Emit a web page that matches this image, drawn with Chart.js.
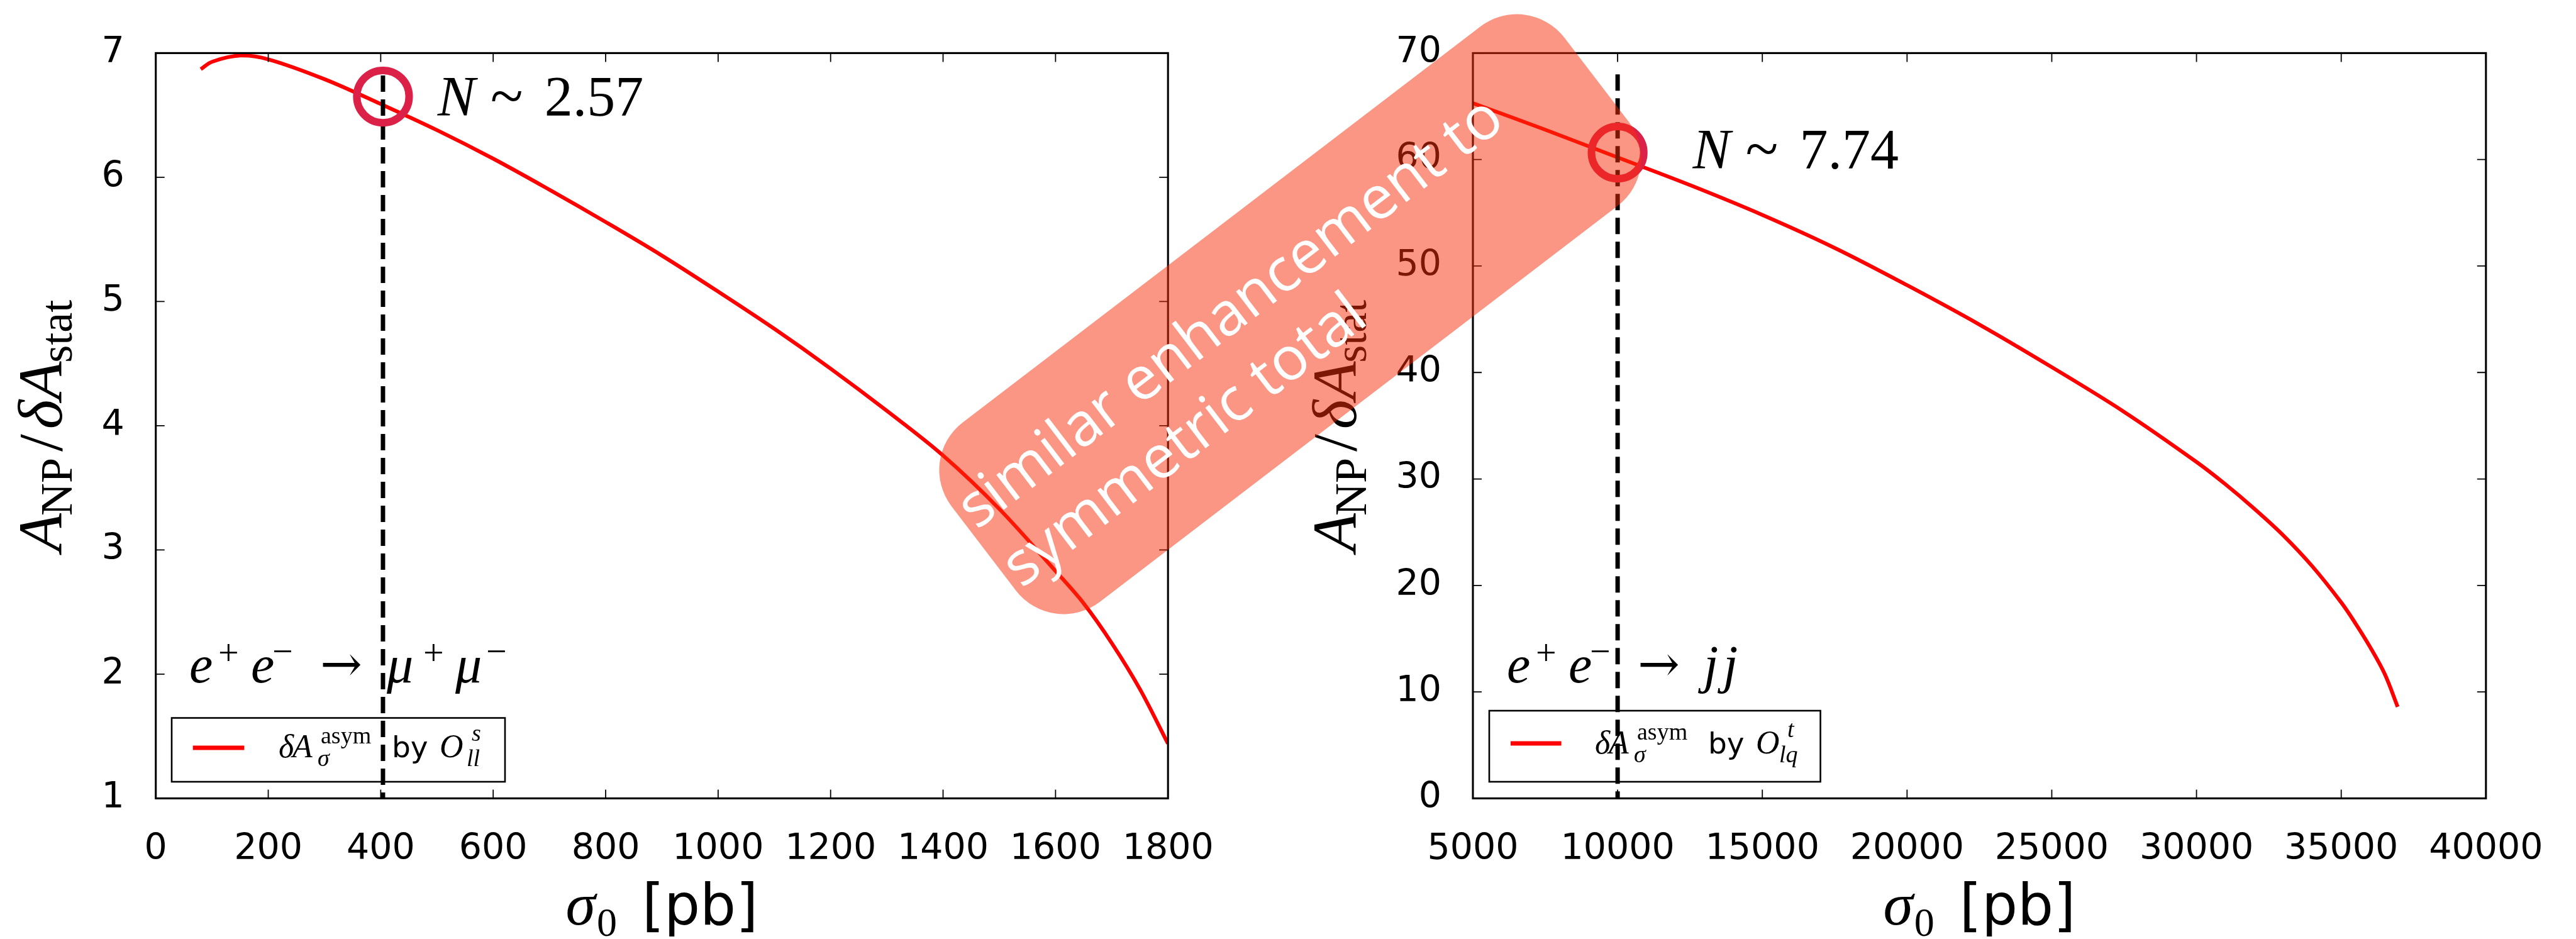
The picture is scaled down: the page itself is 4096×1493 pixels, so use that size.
<!DOCTYPE html>
<html>
<head>
<meta charset="utf-8">
<script src="https://cdn.jsdelivr.net/npm/chart.js@4.4.1/dist/chart.umd.min.js"></script>
<style>
  html, body { margin: 0; padding: 0; background: #fff; overflow: hidden; }
  #wrap { position: relative; width: 4096px; height: 1493px; }
  #wrap canvas { position: absolute; top: 0; }
</style>
</head>
<body>
<div id="wrap">
  <canvas id="muChart" width="2048" height="1493" style="left:0;width:2048px;height:1493px"></canvas>
  <canvas id="jjChart" width="2048" height="1493" style="left:2048px;width:2048px;height:1493px"></canvas>
  <canvas id="note" width="4096" height="1493" style="left:0;width:4096px;height:1493px;pointer-events:none"></canvas>
</div>
<script>
// e+e- -> mu+mu- : A_NP / dA_stat against sigma_0 [pb]
const sigmaMuMu = [80, 100, 150, 200, 300, 400, 500, 600, 700, 800, 900, 1000, 1100, 1200, 1300, 1400, 1500, 1600, 1650, 1700, 1750, 1800];
const ratioMuMu = [6.87, 6.93, 6.98, 6.95, 6.79, 6.59, 6.38, 6.15, 5.90, 5.64, 5.37, 5.08, 4.78, 4.46, 4.12, 3.76, 3.33, 2.83, 2.57, 2.25, 1.88, 1.44];

// e+e- -> jj
const sigmaJJ = [5000, 7500, 10000, 12500, 15000, 17500, 20000, 22500, 25000, 27500, 30000, 31000, 32000, 33000, 34000, 35000, 35500, 36000, 36500, 36950];
const ratioJJ = [65.3, 62.8, 60.2, 57.6, 54.8, 51.7, 48.2, 44.5, 40.5, 36.3, 31.6, 29.5, 27.2, 24.7, 21.8, 18.4, 16.4, 14.2, 11.7, 8.6];

// working points: sigma_0, ratio, and the N written beside them
const pickSigma = [404, 10000];
const pickRatio = [6.65, 60.65];
const pickN = ['2.57', '7.74'];
const guideTop = [6.82, 68];

// axis ranges [min, max, step]
const xRangeMuMu = [0, 1800, 200];
const yRangeMuMu = [1, 7, 1];
const xRangeJJ = [5000, 40000, 5000];
const yRangeJJ = [0, 70, 10];

const SERIF = "'Liberation Serif'";
const serif = (size, style) => (style ? style + ' ' : '') + size + 'px ' + SERIF;
const sans = size => size + "px 'DejaVu Sans'";
const TICK_FONT = { family: 'DejaVu Sans', size: 57 };

// small rich-text helper: parts are {t, font, x?, dx?, dy?}
function layoutRich(ctx, parts) {
  let cur = 0;
  const placed = [];
  parts.forEach(p => {
    ctx.font = p.font;
    const w = ctx.measureText(p.t).width;
    const x = p.x !== undefined ? p.x : cur + (p.dx || 0);
    placed.push({ p, x });
    cur = Math.max(cur, x + w);
  });
  return { placed, width: cur };
}
function drawRich(ctx, x0, y0, parts, align) {
  const { placed, width } = layoutRich(ctx, parts);
  const off = align === 'center' ? -width / 2 : 0;
  ctx.textAlign = 'left';
  ctx.textBaseline = 'alphabetic';
  placed.forEach(({ p, x }) => {
    ctx.font = p.font;
    ctx.fillText(p.t, x0 + off + x, y0 + (p.dy || 0));
  });
}

const yTitle = [
  { t: 'A', font: serif(100, 'italic') },
  { t: 'NP', font: serif(72), dx: -4, dy: 16 },
  { t: '/', font: serif(100), dx: 10 },
  { t: 'δ', font: serif(100, 'italic'), dx: 8 },
  { t: 'A', font: serif(100, 'italic') },
  { t: 'stat', font: serif(72), dx: -2, dy: 16 }
];
const xTitle = [
  { t: 'σ', font: serif(96, 'italic') },
  { t: '0', font: serif(64), dx: 2, dy: 18 },
  { t: '[pb]', font: sans(90), dx: 40 }
];

function processParts(last) {
  const sup = serif(58);
  const parts = [
    { t: 'e', font: serif(84, 'italic'), x: 0 },
    { t: '+', font: sup, x: 46, dy: -28 },
    { t: 'e', font: serif(84, 'italic'), x: 98 },
    { t: '\u2212', font: sup, x: 132, dy: -30 },
    { t: '\u2192', font: "80px 'DejaVu Serif'", x: 208, dy: -2 }
  ];
  return parts.concat(last);
}
const processMuMu = processParts([
  { t: 'μ', font: serif(84, 'italic'), x: 314 },
  { t: '+', font: serif(58), x: 372, dy: -28 },
  { t: 'μ', font: serif(84, 'italic'), x: 423 },
  { t: '\u2212', font: serif(58), x: 472, dy: -30 }
]);
const processJJ = processParts([
  { t: 'j', font: serif(84, 'italic'), x: 313 },
  { t: 'j', font: serif(84, 'italic'), x: 344 }
]);

function legendParts(op, sup, sub, supX, subX) {
  return [
    { t: 'δ', font: serif(52, 'italic'), x: 0 },
    { t: 'A', font: serif(52, 'italic'), x: 22 },
    { t: 'σ', font: serif(38, 'italic'), x: 62, dy: 14 },
    { t: 'asym', font: serif(38), x: 67, dy: -22 },
    { t: 'by', font: sans(47), x: 180 },
    { t: op, font: serif(52, 'italic'), x: 256 },
    { t: sup, font: serif(38, 'italic'), x: supX, dy: -26 },
    { t: sub, font: serif(38, 'italic'), x: subX, dy: 14 }
  ];
}
const legendMuMu = legendParts('O', 's', 'll', 307, 299);
const legendJJ = legendParts('O', 't', 'lq', 306, 293);

const nParts = n => [
  { t: 'N', font: serif(90, 'italic'), x: 0 },
  { t: '~', font: serif(96), x: 84 },
  { t: n, font: serif(90), x: 170 }
];

// frame, inward ticks, titles, legend and text notes
const framePlugin = {
  id: 'sciFrame',
  afterDatasetsDraw(chart) {
    const { ctx, chartArea: a, scales: { x, y } } = chart;
    const len = 14;
    ctx.save();
    ctx.strokeStyle = '#000';
    ctx.lineWidth = 1.8;
    ctx.beginPath();
    x.ticks.forEach(t => {
      const px = x.getPixelForValue(t.value);
      ctx.moveTo(px, a.bottom); ctx.lineTo(px, a.bottom - len);
      ctx.moveTo(px, a.top); ctx.lineTo(px, a.top + len);
    });
    y.ticks.forEach(t => {
      const py = y.getPixelForValue(t.value);
      ctx.moveTo(a.left, py); ctx.lineTo(a.left + len, py);
      ctx.moveTo(a.right, py); ctx.lineTo(a.right - len, py);
    });
    ctx.stroke();
    ctx.lineWidth = 3.1;
    ctx.strokeRect(a.left, a.top, a.right - a.left, a.bottom - a.top);
    ctx.restore();
  },
  afterDraw(chart, args, o) {
    const { ctx, chartArea: a } = chart;
    ctx.save();
    ctx.fillStyle = '#000';

    // axis titles
    drawRich(ctx, (a.left + a.right) / 2, o.xTitleY, xTitle, 'center');
    ctx.save();
    ctx.translate(o.yTitleX, (a.top + a.bottom) / 2);
    ctx.rotate(-Math.PI / 2);
    drawRich(ctx, 0, 0, yTitle, 'center');
    ctx.restore();

    // process and N annotations
    drawRich(ctx, o.process.x, o.process.y, o.process.parts);
    drawRich(ctx, o.nLabel.x, o.nLabel.y, o.nLabel.parts);

    // legend
    const lg = o.legend;
    const curve = chart.data.datasets.find(d => d.label === 'curve');
    ctx.strokeStyle = '#000';
    ctx.lineWidth = 2.6;
    ctx.strokeRect(lg.box[0], lg.box[1], lg.box[2] - lg.box[0], lg.box[3] - lg.box[1]);
    ctx.strokeStyle = curve.borderColor;
    ctx.lineWidth = 7;
    ctx.beginPath();
    ctx.moveTo(lg.line[0], lg.line[2]);
    ctx.lineTo(lg.line[1], lg.line[2]);
    ctx.stroke();
    drawRich(ctx, lg.tx, lg.ty, lg.parts);
    ctx.restore();
  }
};

function panel(id, c) {
  return new Chart(document.getElementById(id), {
    type: 'line',
    data: {
      datasets: [
        {
          label: 'pick',
          data: [{ x: c.pick[0], y: c.pick[1] }],
          showLine: false,
          pointRadius: 41.6,
          pointBorderWidth: 12,
          pointBorderColor: '#dc2148',
          pointBackgroundColor: 'rgba(0,0,0,0)',
          clip: false
        },
        {
          label: 'guide',
          data: [{ x: c.pick[0], y: c.guideTop }, { x: c.pick[0], y: c.yRange[0] }],
          borderColor: '#000',
          borderWidth: 7,
          borderDash: [26, 12],
          borderCapStyle: 'butt',
          pointRadius: 0
        },
        {
          label: 'curve',
          data: c.sigma.map((s, i) => ({ x: s, y: c.ratio[i] })),
          borderColor: '#ff0000',
          borderWidth: 6,
          pointRadius: 0,
          tension: 0.35
        }
      ]
    },
    options: {
      responsive: false,
      animation: false,
      devicePixelRatio: 1,
      events: [],
      layout: { padding: { top: 84.4, right: c.padRight, left: 0, bottom: 0 } },
      plugins: { legend: { display: false }, tooltip: { enabled: false }, sciFrame: c.deco },
      scales: {
        x: {
          type: 'linear',
          min: c.xRange[0], max: c.xRange[1],
          afterFit: s => { s.height = 223.6; },
          grid: { display: false, drawTicks: false },
          border: { display: false },
          ticks: {
            stepSize: c.xRange[2], autoSkip: false, maxRotation: 0,
            font: TICK_FONT, color: '#000', padding: 48,
            callback: v => String(v)
          }
        },
        y: {
          type: 'linear',
          min: c.yRange[0], max: c.yRange[1],
          afterFit: s => { s.width = c.yAxisWidth; },
          grid: { display: false, drawTicks: false },
          border: { display: false },
          ticks: {
            stepSize: c.yRange[2], autoSkip: false,
            font: TICK_FONT, color: '#000', padding: 50,
            callback: v => String(v)
          }
        }
      }
    },
    plugins: [framePlugin]
  });
}

panel('muChart', {
  sigma: sigmaMuMu, ratio: ratioMuMu,
  pick: [pickSigma[0], pickRatio[0]], guideTop: guideTop[0],
  xRange: xRangeMuMu, yRange: yRangeMuMu,
  yAxisWidth: 247.7, padRight: 190.8,
  deco: {
    xTitleY: 1469.5, yTitleX: 98,
    process: { x: 301, y: 1084.8, parts: processMuMu },
    nLabel: { x: 695.7, y: 184, parts: nParts(pickN[0]) },
    legend: { box: [273, 1141.5, 803, 1243], line: [306.7, 388.4, 1189], tx: 443, ty: 1204.4, parts: legendMuMu }
  }
});

panel('jjChart', {
  sigma: sigmaJJ, ratio: ratioJJ,
  pick: [pickSigma[1], pickRatio[1]], guideTop: guideTop[1],
  xRange: xRangeJJ, yRange: yRangeJJ,
  yAxisWidth: 294, padRight: 143.2,
  deco: {
    xTitleY: 1469.5, yTitleX: 108,
    process: { x: 347.9, y: 1084.8, parts: processJJ },
    nLabel: { x: 643.6, y: 268, parts: nParts(pickN[1]) },
    legend: { box: [320, 1130, 846.6, 1243], line: [354, 434.6, 1182], tx: 488, ty: 1198.4, parts: legendJJ }
  }
});

// rounded callout laid across both panels
(function () {
  const ctx = document.getElementById('note').getContext('2d');
  const L = 1226.6, W = 359, r = 95;
  ctx.save();
  ctx.translate(2051.5, 499.5);
  ctx.rotate(-37.4 * Math.PI / 180);
  ctx.fillStyle = 'rgba(250, 45, 10, 0.5)';
  ctx.beginPath();
  ctx.roundRect(-L / 2, -W / 2, L, W, r);
  ctx.fill();
  ctx.fillStyle = '#fff';
  ctx.font = "96px 'Open Sans'";
  ctx.textAlign = 'left';
  ctx.textBaseline = 'alphabetic';
  ctx.fillText('similar enhancement to', -604.6, -29.5);
  ctx.fillText('symmetric total', -604.6, 87.6);
  ctx.restore();
})();
</script>
</body>
</html>
